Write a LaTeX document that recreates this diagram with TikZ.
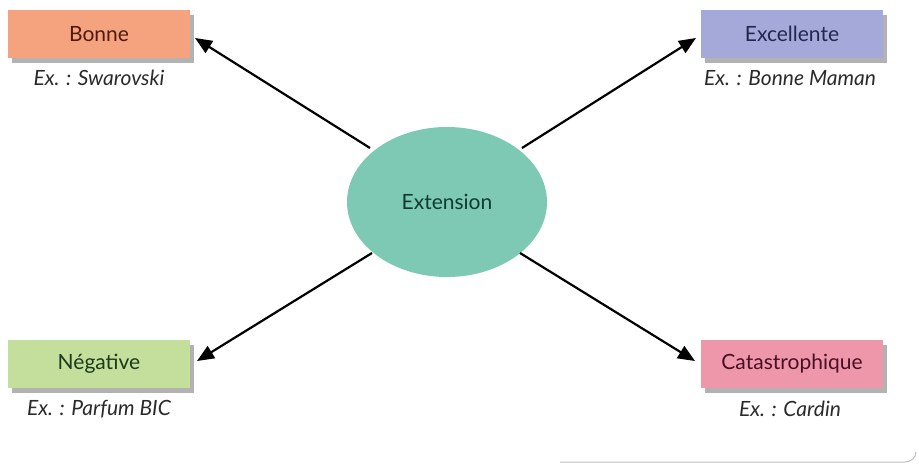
\documentclass[tikz,border=0pt]{standalone}
\usepackage{fontspec}
\setmainfont{Lato}
\usetikzlibrary{shapes.geometric,shadows,arrows.meta}
\definecolor{cBonne}{HTML}{F5A27E}
\definecolor{cExc}{HTML}{A4A9D9}
\definecolor{cNeg}{HTML}{C4DE9C}
\definecolor{cCat}{HTML}{EE97AA}
\definecolor{cExt}{HTML}{7DC9B3}
\definecolor{tBonne}{HTML}{4E1A10}
\definecolor{tExc}{HTML}{23264F}
\definecolor{tNeg}{HTML}{1C3A1C}
\definecolor{tCat}{HTML}{4A0F22}
\definecolor{tExt}{HTML}{0F3B30}
\definecolor{cap}{HTML}{2A2A2A}
\begin{document}
\begin{tikzpicture}[x=1pt,y=-1pt,
  box/.style={rectangle, minimum width=182pt, minimum height=48pt, inner sep=0pt,
    drop shadow={shadow xshift=4pt, shadow yshift=-5pt, opacity=0.5, fill=black!60},
    font=\fontsize{21}{24}\selectfont},
  caption/.style={font=\fontsize{21}{24}\selectfont\itshape, text=cap},
  arr/.style={-{Triangle[length=17pt,width=14pt]}, line width=2.2pt}]
\useasboundingbox (0,0) rectangle (919,466);
\node[box, fill=cBonne, text=tBonne] (bonne) at (99,34) {Bonne};
\node[box, fill=cExc, text=tExc] (exc) at (792,34) {Excellente};
\node[box, fill=cNeg, text=tNeg] (neg) at (99,364) {Négative};
\node[box, fill=cCat, text=tCat] (cat) at (792,364) {Catastrophique};
\node[caption] (cb) at (99,78) {Ex. : Swarovski};
\node[caption] (ce) at (790,78) {Ex. : Bonne Maman};
\node[caption] (cn) at (99,409) {Ex. : Parfum BIC};
\node[caption] (cc) at (790,409) {Ex. : Cardin};
\node[ellipse, fill=cExt, minimum width=200pt, minimum height=150pt, inner sep=0pt,
  text=tExt, font=\fontsize{21}{24}\selectfont] (ext) at (447,202) {Extension};
\coordinate (s1) at (370,148);
\coordinate (s2) at (522,148);
\coordinate (s3) at (372,253);
\coordinate (s4) at (520,253);
\coordinate (e1) at (195,38);
\coordinate (e2) at (696,38);
\coordinate (e3) at (197,361);
\coordinate (e4) at (695,361);
\draw[arr] (s1) -- (e1);
\draw[arr] (s2) -- (e2);
\draw[arr] (s3) -- (e3);
\draw[arr] (s4) -- (e4);
\draw[black!25, line width=1pt] (560,462) -- (905,462) to[out=0,in=-90] (916,452);
\end{tikzpicture}
\end{document}
